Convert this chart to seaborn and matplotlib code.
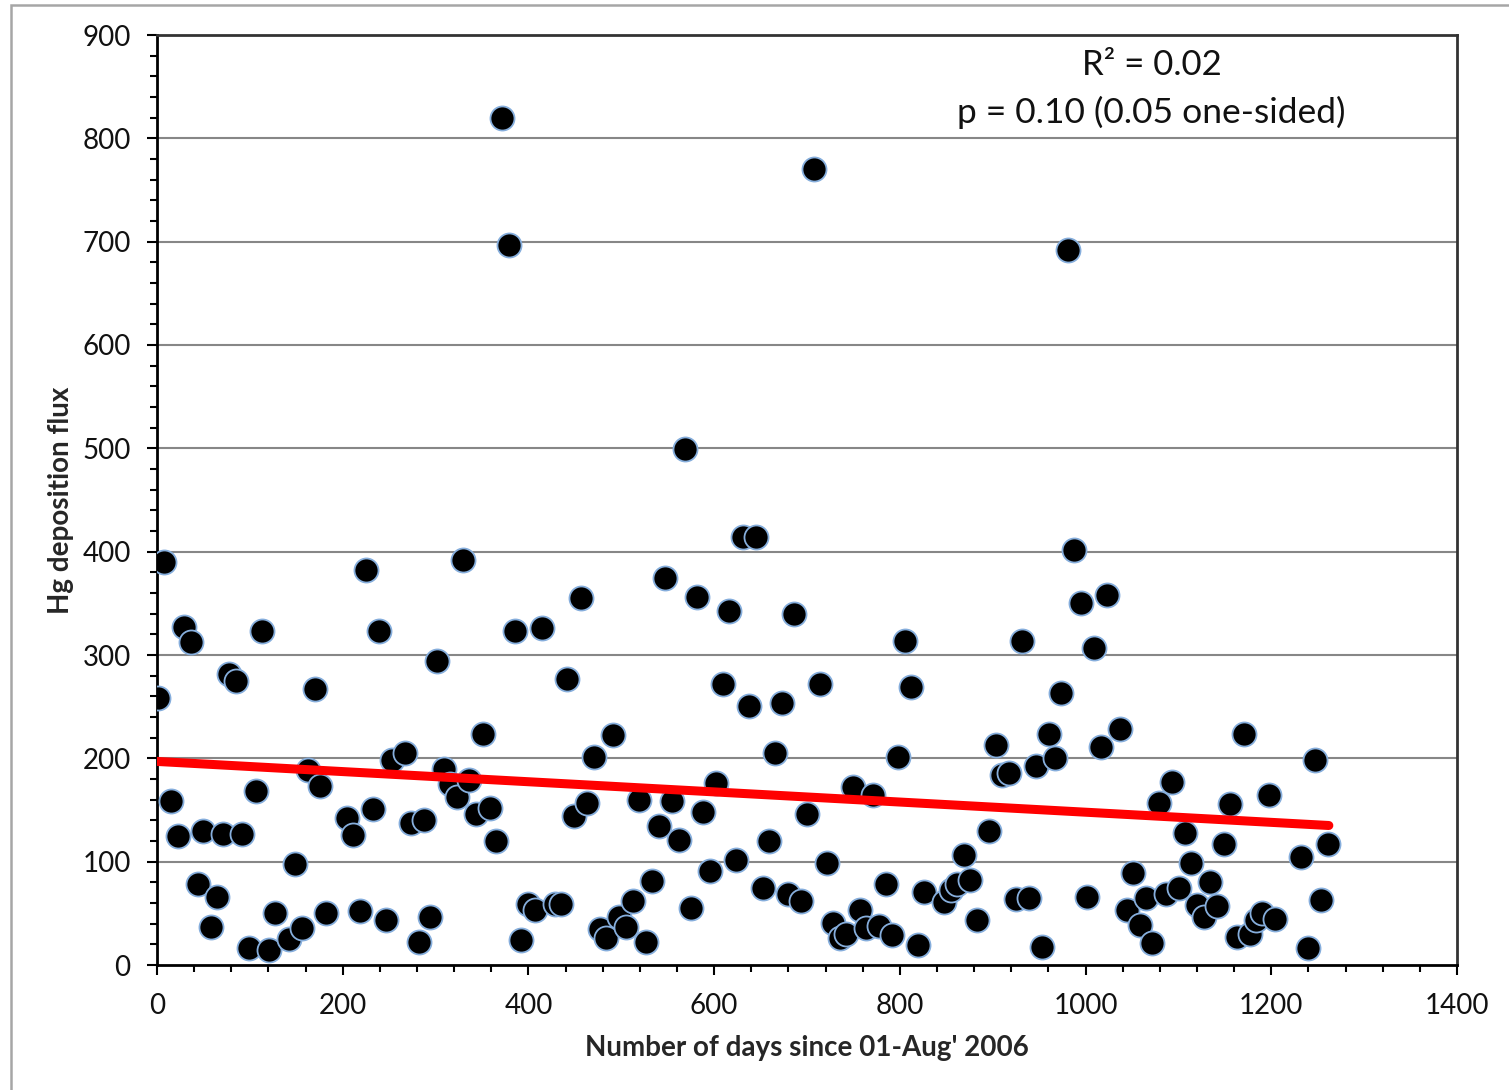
import numpy as np
import pandas as pd
import matplotlib
matplotlib.use("Agg")
import matplotlib.pyplot as plt
from matplotlib.patches import Rectangle
from matplotlib.ticker import MultipleLocator
import seaborn as sns

# ---- data ----
days = [1, 8, 15, 23, 29, 37, 44, 50, 58, 65, 71, 77, 85, 92, 99, 107, 113, 121, 127,
        142, 149, 156, 163, 170, 176, 182, 205, 211, 219, 225, 233, 239, 247, 253, 267,
        274, 282, 288, 294, 302, 309, 316, 323, 330, 336, 343, 351, 359, 365, 372, 379,
        386, 392, 399, 407, 415, 429, 435, 442, 449, 457, 463, 471, 477, 484, 491, 498,
        505, 513, 519, 527, 533, 541, 547, 555, 562, 569, 575, 582, 588, 595, 602, 610,
        616, 624, 631, 638, 645, 653, 659, 666, 673, 680, 686, 694, 700, 708, 714, 722,
        728, 735, 742, 749, 757, 764, 771, 778, 785, 792, 798, 805, 812, 820, 826, 848,
        855, 862, 869, 876, 883, 896, 903, 910, 918, 925, 932, 939, 947, 953, 961, 967,
        974, 981, 988, 995, 1002, 1009, 1017, 1023, 1037, 1045, 1051, 1059, 1065, 1072,
        1079, 1087, 1093, 1101, 1107, 1114, 1120, 1128, 1134, 1141, 1149, 1155, 1163,
        1171, 1177, 1183, 1190, 1197, 1204, 1232, 1239, 1247, 1253, 1261]
flux = [258, 390, 159, 125, 327, 313, 78, 130, 37, 66, 127, 282, 275, 127, 16, 168, 323,
        15, 50, 25, 98, 36, 189, 267, 173, 50, 142, 126, 52, 382, 151, 323, 44, 198, 205,
        137, 22, 140, 46, 294, 190, 175, 163, 392, 179, 146, 224, 152, 120, 820, 697, 323,
        24, 59, 53, 326, 59, 59, 277, 144, 355, 157, 201, 35, 26, 223, 46, 37, 62, 160,
        22, 81, 135, 375, 159, 121, 499, 55, 356, 148, 91, 176, 272, 343, 102, 414, 251,
        414, 75, 120, 205, 254, 69, 340, 62, 146, 770, 272, 99, 41, 26, 30, 172, 53, 36,
        165, 38, 78, 29, 201, 314, 269, 19, 71, 61, 73, 78, 106, 82, 44, 130, 213, 184,
        186, 64, 314, 65, 193, 17, 224, 200, 263, 692, 402, 350, 66, 307, 211, 358, 228,
        53, 89, 39, 65, 21, 157, 69, 177, 75, 128, 99, 58, 46, 80, 57, 117, 156, 27, 224,
        30, 44, 50, 165, 45, 105, 16, 198, 63, 117]
trend_days = [0, 1262]
trend_flux = [197, 135]

x_label = "Number of days since 01-Aug' 2006"
y_label = "Hg deposition flux"
annotation_lines = ["R\u00b2 = 0.02", "p = 0.10 (0.05 one-sided)"]

df = pd.DataFrame({"days": days, "flux": flux})
trend = pd.DataFrame({"days": trend_days, "flux": trend_flux})

sns.set_style("white")
plt.rcParams["font.family"] = ["Lato", "DejaVu Sans"]

fig = plt.figure(figsize=(15.09, 10.90), dpi=100)
ax = fig.add_axes([157 / 1509, 1 - 965 / 1090, 1300 / 1509, 930 / 1090])

for v in range(100, 900, 100):
    ax.axhline(v, color="#878787", lw=1.5, zorder=0)

sns.scatterplot(data=df, x="days", y="flux", ax=ax, s=300, color="black",
                edgecolor="#86aedc", linewidth=1.3, zorder=3)
sns.lineplot(data=trend, x="days", y="flux", ax=ax, color="#ff0000", lw=6.5,
             zorder=4, solid_capstyle="round")

ax.set_xlim(0, 1400)
ax.set_ylim(0, 900)
ax.xaxis.set_major_locator(MultipleLocator(200))
ax.xaxis.set_minor_locator(MultipleLocator(40))
ax.yaxis.set_major_locator(MultipleLocator(100))
ax.yaxis.set_minor_locator(MultipleLocator(20))
ax.tick_params(axis="both", which="major", direction="out", length=7, width=1.5,
               color="black", labelsize=20, labelcolor="#111111")
ax.tick_params(axis="both", which="minor", direction="out", length=5, width=1.5,
               color="black")
ax.tick_params(axis="x", which="major", pad=13)
ax.tick_params(axis="y", which="major", pad=12)
ax.tick_params(axis="both", which="both", bottom=True, left=True)

for side in ["left", "bottom"]:
    ax.spines[side].set_color("black")
    ax.spines[side].set_linewidth(2)
for side in ["top", "right"]:
    ax.spines[side].set_color("#333333")
    ax.spines[side].set_linewidth(2)

ax.set_xlabel(x_label, fontsize=20, fontweight="bold", labelpad=12)
ax.set_ylabel(y_label, fontsize=20, fontweight="bold", labelpad=6)

ax.text(0.765, 0.968, annotation_lines[0], transform=ax.transAxes, ha="center",
        va="center", fontsize=25, color="#111111")
ax.text(0.765, 0.917, annotation_lines[1], transform=ax.transAxes, ha="center",
        va="center", fontsize=25.5, color="#111111")

fig.patches.append(Rectangle((11 / 1509, -0.1), 2.0, 1.1 - 5 / 1090,
                             transform=fig.transFigure, fill=False,
                             edgecolor="#a6a6a6", lw=1.8, zorder=0))

fig.savefig("out.png", dpi=100)
